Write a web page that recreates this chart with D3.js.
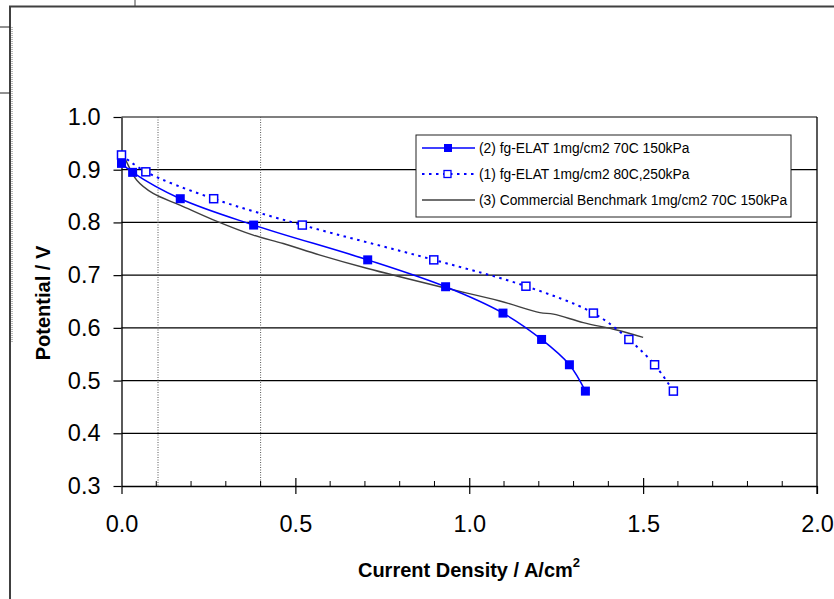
<!DOCTYPE html>
<html>
<head>
<meta charset="utf-8">
<script src="https://cdn.jsdelivr.net/npm/d3@7"></script>
<style>
  body { margin: 0; background: #fff; }
  svg { display: block; font-family: "Liberation Sans", Arial, sans-serif; }
</style>
</head>
<body>
<svg id="chart" width="834" height="599"></svg>
<script>
// series 2: fg-ELAT 70C 150kPa (filled squares)
var s2x = [0.0, 0.032, 0.169, 0.380, 0.708, 0.932, 1.097, 1.208, 1.288, 1.334];
var s2y = [0.912, 0.895, 0.845, 0.795, 0.729, 0.678, 0.628, 0.578, 0.530, 0.480];
// series 1: fg-ELAT 80C,250kPa (open squares)
var s1x = [0.0, 0.070, 0.265, 0.520, 0.898, 1.163, 1.357, 1.459, 1.533, 1.587];
var s1y = [0.928, 0.896, 0.845, 0.795, 0.729, 0.679, 0.628, 0.578, 0.530, 0.480];
// series 3: commercial benchmark (line only)
var s3x = [0.002, 0.016, 0.044, 0.091, 0.168, 0.264, 0.379, 0.465, 0.571, 0.705, 0.916, 1.088, 1.203, 1.242, 1.328, 1.424, 1.500];
var s3y = [0.935, 0.913, 0.880, 0.855, 0.833, 0.805, 0.776, 0.760, 0.738, 0.713, 0.678, 0.651, 0.629, 0.626, 0.610, 0.596, 0.582];

var legendNames = ["(2) fg-ELAT 1mg/cm2 70C 150kPa", "(1) fg-ELAT 1mg/cm2 80C,250kPa", "(3) Commercial Benchmark 1mg/cm2 70C 150kPa"];
var xTicks = [0, 0.5, 1.0, 1.5, 2.0];
var xMinor = [0.1, 0.2, 0.3, 0.4, 0.6, 0.7, 0.8, 0.9, 1.1, 1.2, 1.3, 1.4, 1.6, 1.7, 1.8, 1.9];
var yTicks = [0.3, 0.4, 0.5, 0.6, 0.7, 0.8, 0.9, 1.0];
var dotLines = [0.105, 0.40];

var blue = "#0000ff", grey = "#404040";
var svg = d3.select("#chart");

var x = d3.scaleLinear().domain([0, 2]).range([121.5, 817]);
var y = d3.scaleLinear().domain([0.3, 1.0]).range([486, 117]);

// outer frame bits
svg.append("path").attr("d", "M10,599V6.5H834").attr("fill", "none").attr("stroke", grey).attr("stroke-width", 2);
svg.append("line").attr("x1", 12).attr("x2", 12).attr("y1", 27).attr("y2", 343)
  .attr("stroke", "#777").attr("stroke-dasharray", "1,1");
svg.append("line").attr("x1", 135).attr("x2", 135).attr("y1", 0).attr("y2", 6).attr("stroke", grey);
svg.selectAll(".lt").data([27, 93]).enter().append("line")
  .attr("x1", 0).attr("x2", 10).attr("y1", d => d).attr("y2", d => d).attr("stroke", "#222");

// grid
svg.append("g").selectAll("line").data(yTicks.slice(1)).enter().append("line")
  .attr("x1", x(0)).attr("x2", x(2)).attr("y1", d => y(d)).attr("y2", d => y(d))
  .attr("stroke", "#000").attr("stroke-width", 1.2);
svg.append("g").selectAll("line").data(dotLines).enter().append("line")
  .attr("x1", d => x(d)).attr("x2", d => x(d)).attr("y1", y(1)).attr("y2", y(0.3))
  .attr("stroke", "#555").attr("stroke-dasharray", "1,1.5");

// axes
var xAxis = svg.append("g").attr("transform", "translate(0," + y(0.3) + ")");
xAxis.call(d3.axisBottom(x).tickValues(xTicks).tickSizeInner(8).tickSizeOuter(0).tickFormat(d3.format(".1f")));
xAxis.selectAll(".tick").filter(d => d > 0 && d < 2).select("line").attr("y1", -8);
xAxis.selectAll(".minor").data(xMinor).enter().append("line").attr("class", "minor")
  .attr("x1", d => x(d)).attr("x2", d => x(d)).attr("y1", 0).attr("y2", -5).attr("stroke", "#000");

var yAxis = svg.append("g").attr("transform", "translate(" + x(0) + ",0)");
yAxis.call(d3.axisLeft(y).tickValues(yTicks).tickSizeInner(8).tickSizeOuter(0).tickPadding(13).tickFormat(d3.format(".1f")));

svg.selectAll(".domain").attr("stroke", "#000").attr("stroke-width", 1.3);
svg.selectAll(".tick line").attr("stroke", "#000").attr("stroke-width", 1.2);
svg.selectAll(".tick text").attr("font-size", 23.5).attr("fill", "#000")
  .attr("font-family", "'Liberation Sans', Arial, sans-serif");
xAxis.selectAll(".tick text").attr("y", 46).attr("dy", 0);

// right edge of plot
svg.append("line").attr("x1", x(2)).attr("x2", x(2)).attr("y1", y(1)).attr("y2", y(0.3) + 8)
  .attr("stroke", "#000").attr("stroke-width", 1.3);

// curves
var line = d3.line().x(d => x(d[0])).y(d => y(d[1])).curve(d3.curveCatmullRom.alpha(0.5));
var d2 = d3.zip(s2x, s2y), d1 = d3.zip(s1x, s1y), d3s = d3.zip(s3x, s3y);

svg.append("path").attr("d", line(d3s)).attr("fill", "none").attr("stroke", grey).attr("stroke-width", 1.4);
svg.append("path").attr("d", line(d1)).attr("fill", "none").attr("stroke", blue).attr("stroke-width", 2)
  .attr("stroke-dasharray", "2.5,4.5");
svg.append("path").attr("d", line(d2)).attr("fill", "none").attr("stroke", blue).attr("stroke-width", 1.5);

svg.append("g").selectAll("rect").data(d1).enter().append("rect")
  .attr("x", d => x(d[0]) - 4).attr("y", d => y(d[1]) - 4).attr("width", 8).attr("height", 8)
  .attr("fill", "#fff").attr("stroke", blue).attr("stroke-width", 1.5);
svg.append("g").selectAll("rect").data(d2).enter().append("rect")
  .attr("x", d => x(d[0]) - 4.5).attr("y", d => y(d[1]) - 4.5).attr("width", 9).attr("height", 9)
  .attr("fill", blue);

// legend
var lg = svg.append("g").attr("transform", "translate(416,135)");
lg.append("rect").attr("width", 375).attr("height", 82).attr("fill", "#fff").attr("stroke", "#222").attr("stroke-width", 1);
var rows = lg.selectAll(".row").data(legendNames).enter().append("g").attr("class", "row")
  .attr("transform", (d, i) => "translate(0," + (13 + i * 26) + ")");
rows.append("line").attr("x1", 6).attr("x2", 59).attr("y1", 0).attr("y2", 0)
  .attr("stroke", (d, i) => i == 2 ? grey : blue)
  .attr("stroke-width", (d, i) => i == 1 ? 2 : 1.5)
  .attr("stroke-dasharray", (d, i) => i == 1 ? "2.5,4.5" : null);
rows.filter((d, i) => i == 0).append("rect").attr("x", 28).attr("y", -4).attr("width", 8).attr("height", 8).attr("fill", blue);
rows.filter((d, i) => i == 1).append("rect").attr("x", 28).attr("y", -3.5).attr("width", 7).attr("height", 7)
  .attr("fill", "#fff").attr("stroke", blue).attr("stroke-width", 1.3);
rows.append("text").attr("x", 63).attr("y", 5).attr("font-size", 13.8).text(d => d);

// axis titles
var xt = svg.append("text").attr("x", 469).attr("y", 577).attr("text-anchor", "middle")
  .attr("font-size", 20).attr("font-weight", "bold");
xt.append("tspan").text("Current Density / A/cm");
xt.append("tspan").attr("font-size", 13).attr("dy", -10).text("2");

svg.append("text").attr("transform", "translate(50,303) rotate(-90)").attr("text-anchor", "middle")
  .attr("font-size", 20).attr("font-weight", "bold").text("Potential / V");
</script>
</body>
</html>
